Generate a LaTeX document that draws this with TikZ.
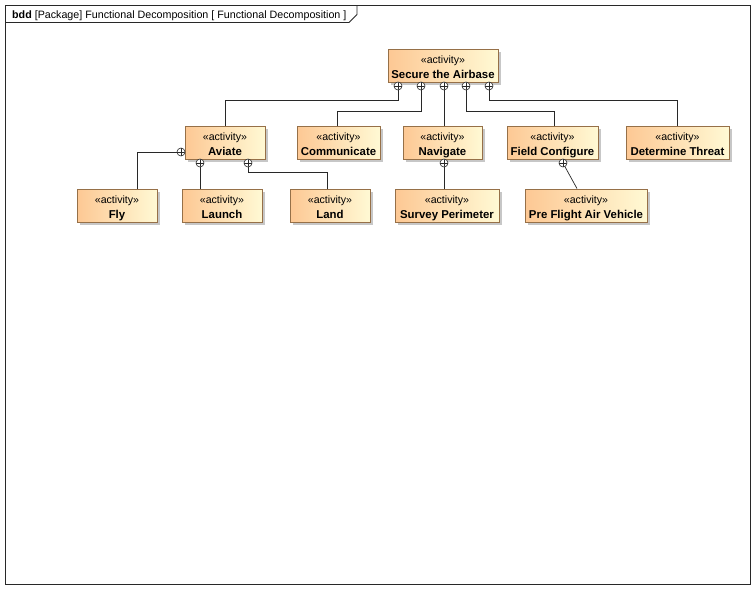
\documentclass[tikz,border=0pt]{standalone}
\usepackage{fontspec}
\setmainfont{Liberation Sans}
\usetikzlibrary{shadows}
\definecolor{blockleft}{RGB}{253,200,148}
\definecolor{blockright}{RGB}{255,249,212}
\definecolor{blockedge}{RGB}{150,112,72}
\definecolor{wire}{RGB}{40,40,40}
\tikzset{
  block/.style={draw=blockedge, line width=0.8pt, left color=blockleft, right color=blockright,
    minimum height=33pt, inner sep=0pt, align=center,
    drop shadow={shadow xshift=2.5pt, shadow yshift=-2.5pt, fill=black, opacity=0.22}},
  owned/.style={circle, draw=wire, fill=white, line width=0.6pt, inner sep=0pt, minimum size=8pt,
    path picture={\draw[wire, line width=0.6pt]
      (path picture bounding box.north) -- (path picture bounding box.south)
      (path picture bounding box.west) -- (path picture bounding box.east);}},
  wireline/.style={draw=wire, line width=0.7pt},
}
% two-line block label: stereotype over the bold name, with a little top padding
\newcommand{\actblock}[1]{\begin{tabular}{@{}c@{}}\rule{0pt}{14pt}{\fontsize{10.6}{11}\selectfont «activity»}\\[3pt]{\fontsize{11.4}{12}\selectfont\bfseries #1}\end{tabular}}
\begin{document}
\begin{tikzpicture}[x=1pt, y=-1pt]
\useasboundingbox (0,0) rectangle (755,589);
\fill[white] (0,0) rectangle (755,589);
% diagram frame and its heading tab
\draw[draw=wire, line width=0.8pt] (5.5,5.5) rectangle (750.5,584.5);
\draw[draw=wire, line width=0.8pt] (5.5,22.5) -- (349,22.5) -- (357,14.5) -- (357,5.5);
\node[anchor=base west, inner sep=0pt, font=\fontsize{10.7}{12}\selectfont] (title) at (12,18)
  {\textbf{bdd} [Package] Functional Decomposition [ Functional Decomposition ]};

% activity blocks
\node[block, minimum width=110pt] (secure) at (443,65.5) {\actblock{Secure the Airbase}};
\node[block, minimum width=80pt] (aviate) at (225,142.5) {\actblock{Aviate}};
\node[block, minimum width=83pt] (comm) at (338.5,142.5) {\actblock{Communicate}};
\node[block, minimum width=79pt] (nav) at (442.5,142.5) {\actblock{Navigate}};
\node[block, minimum width=91pt] (field) at (552.5,142.5) {\actblock{Field Configure}};
\node[block, minimum width=103pt] (threat) at (677.5,142.5) {\actblock{Determine Threat}};
\node[block, minimum width=80pt] (fly) at (117,205.5) {\actblock{Fly}};
\node[block, minimum width=80pt] (launch) at (222,205.5) {\actblock{Launch}};
\node[block, minimum width=80pt] (land) at (330,205.5) {\actblock{Land}};
\node[block, minimum width=104pt] (survey) at (447,205.5) {\actblock{Survey Perimeter}};
\node[block, minimum width=122pt] (preflight) at (586,205.5) {\actblock{Pre Flight Air Vehicle}};

% ownership markers on the owning blocks
\node[owned] (s1) at (398,86) {};
\node[owned] (s2) at (421,86) {};
\node[owned] (s3) at (444,86) {};
\node[owned] (s4) at (466,86) {};
\node[owned] (s5) at (489,86) {};
\node[owned] (a1) at (181,152) {};
\node[owned] (a2) at (200,163) {};
\node[owned] (a3) at (248,163) {};
\node[owned] (n1) at (444,163) {};
\node[owned] (f1) at (563,163) {};

% composition connectors
\draw[wireline] (s1.south) |- (aviate.north |- 0,100) -- (aviate.north);
\draw[wireline] (s2.south) |- ([xshift=-1.5pt]comm.north |- 0,111) -- ([xshift=-1.5pt]comm.north);
\draw[wireline] (s3.south) -- (s3.south |- nav.north);
\draw[wireline] (s4.south) |- ([xshift=1.5pt]field.north |- 0,111) -- ([xshift=1.5pt]field.north);
\draw[wireline] (s5.south) |- ([xshift=-0.5pt]threat.north |- 0,100) -- ([xshift=-0.5pt]threat.north);
\draw[wireline] (a1.west) -| ([xshift=20pt]fly.north);
\draw[wireline] (a2.south) -- (a2.south |- launch.north);
\draw[wireline] (a3.south) |- ([xshift=-3pt]land.north |- 0,172) -- ([xshift=-3pt]land.north);
\draw[wireline] (n1.south) -- (n1.south |- survey.north);
\draw[wireline] (f1) ++(-62:4pt) -- ([xshift=-9pt]preflight.north);
\end{tikzpicture}
\end{document}
